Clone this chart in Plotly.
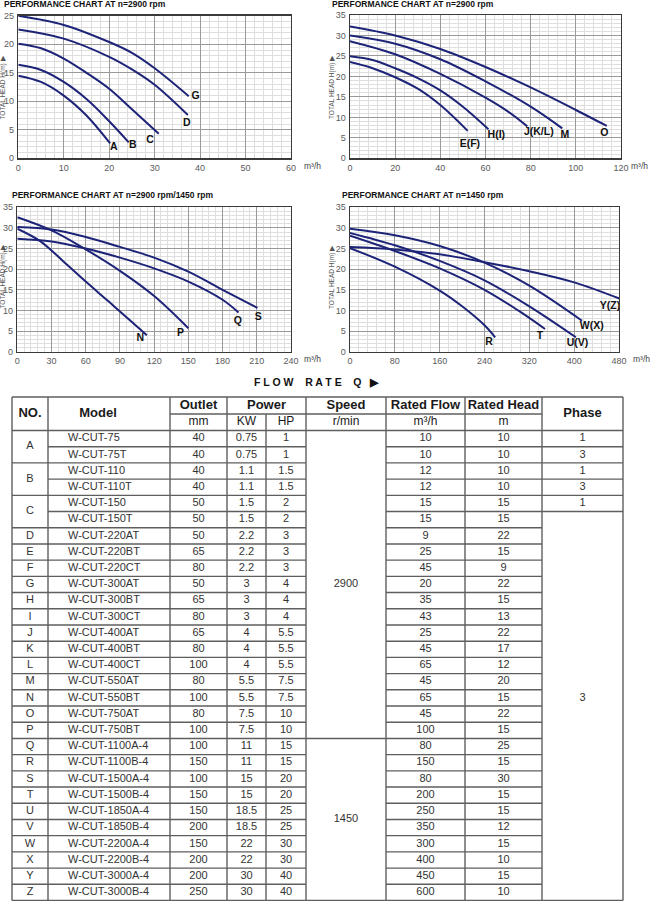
import plotly.graph_objects as go

W, H = 650, 901

# ---------------- chart data ----------------
# Chart 1: n=2900 rpm, small pumps
c1_names = ["A", "B", "C", "D", "G"]
c1_x = [
    [0, 5, 10, 15, 20.2],
    [0, 5, 10, 15, 20, 24.3],
    [0, 5, 10, 15, 20, 25, 30.9],
    [0, 10, 20, 25, 30, 37.3],
    [0, 10, 20, 25, 30, 37.5],
]
c1_y = [
    [14.5, 13.4, 11.0, 7.5, 2.6],
    [16.4, 15.5, 13.4, 10.4, 6.5, 2.8],
    [20.1, 19.3, 17.5, 15.0, 12.2, 8.6, 4.3],
    [22.6, 21.0, 17.8, 15.6, 12.9, 7.6],
    [25.0, 23.4, 20.4, 18.5, 15.8, 10.9],
]
c1_lx = [21.0, 25.2, 29.0, 37.1, 39.0]
c1_ly = [2.0, 2.2, 3.2, 6.2, 10.8]

# Chart 2: n=2900 rpm
c2_names = ["E(F)", "H(I)", "J(K/L)", "M", "O"]
c2_x = [
    [0, 10, 20, 30, 40, 52.1],
    [0, 10, 20, 30, 40, 50, 61.3],
    [0, 20, 40, 60, 70, 78.5],
    [0, 20, 40, 60, 80, 94],
    [0, 20, 40, 60, 80, 100, 113.7],
]
c2_y = [
    [23.5, 22.0, 19.8, 17.0, 13.0, 6.7],
    [24.9, 24.0, 22.0, 19.6, 16.6, 12.6, 7.1],
    [28.6, 25.4, 20.6, 14.8, 11.4, 7.8],
    [30.0, 28.0, 24.2, 18.8, 12.6, 7.3],
    [32.2, 30.0, 26.7, 22.3, 17.3, 11.8, 7.9],
]
c2_lx = [53.1, 64.8, 83.6, 95.2, 112.6]
c2_ly = [3.3, 5.5, 6.3, 5.7, 6.1]

# Chart 3: n=2900 rpm / 1450 rpm
c3_names = ["N", "P", "Q", "S"]
c3_x = [
    [0, 20, 40, 60, 80, 100, 113.6],
    [0, 30, 60, 90, 120, 150],
    [0, 30, 60, 90, 120, 150, 180, 194],
    [0, 30, 60, 90, 120, 150, 180, 210.6],
]
c3_y = [
    [29.8, 26.8, 22.0, 17.0, 12.2, 7.3, 4.0],
    [32.6, 29.4, 24.8, 19.6, 13.5, 5.7],
    [27.4, 26.7, 25.0, 22.8, 20.2, 17.0, 12.6, 9.5],
    [30.2, 29.6, 27.8, 25.4, 22.8, 19.4, 15.0, 10.6],
]
c3_lx = [107.8, 143.2, 193.4, 211.4]
c3_ly = [3.2, 4.4, 7.3, 8.3]

# Chart 4: n=1450 rpm
c4_names = ["R", "T", "U(V)", "W(X)", "Y(Z)"]
c4_x = [
    [0, 80, 160, 200, 240, 259],
    [0, 80, 160, 240, 300, 348],
    [0, 80, 160, 240, 320, 403],
    [0, 80, 160, 240, 320, 414],
    [0, 80, 160, 240, 320, 400, 484],
]
c4_y = [
    [25.1, 20.6, 14.8, 11.0, 6.4, 3.5],
    [28.1, 24.4, 20.2, 15.0, 10.0, 5.5],
    [28.8, 25.8, 22.0, 17.3, 11.0, 3.5],
    [29.8, 28.2, 25.6, 21.6, 16.0, 7.5],
    [25.4, 24.8, 23.6, 21.7, 19.5, 16.8, 12.7],
]
c4_lx = [248, 339, 406, 431.5, 464]
c4_ly = [2.3, 3.8, 1.9, 6.1, 10.9]

chart_titles = [
    "PERFORMANCE CHART AT n=2900 rpm",
    "PERFORMANCE CHART AT n=2900 rpm",
    "PERFORMANCE CHART AT n=2900 rpm/1450 rpm",
    "PERFORMANCE CHART AT n=1450 rpm",
]
x_ranges = [[0, 60], [0, 120], [0, 240], [0, 480]]
x_major = [10, 20, 30, 80]
x_minor = [2, 4, 6, 16]
y_ranges = [[0, 25], [0, 35], [0, 35], [0, 35]]
y_major = 5
y_minor = 1
y_axis_title = "TOTAL HEAD H(m) \u25B6"
x_unit = "m\u00b3/h"
flow_caption = "F L O W\u00a0\u00a0\u00a0\u00a0R A T E\u00a0\u00a0\u00a0\u00a0Q\u00a0\u00a0\u00a0\u25B6"

# ---------------- table data ----------------
col_heads_top = ["NO.", "Model", "Outlet", "Power", "Speed", "Rated Flow", "Rated Head", "Phase"]
col_heads_sub = ["mm", "KW", "HP", "r/min", "m\u00b3/h", "m"]
nos = ["A", "A", "B", "B", "C", "C", "D", "E", "F", "G", "H", "I", "J", "K", "L",
       "M", "N", "O", "P", "Q", "R", "S", "T", "U", "V", "W", "X", "Y", "Z"]
models = ["W-CUT-75", "W-CUT-75T", "W-CUT-110", "W-CUT-110T", "W-CUT-150", "W-CUT-150T",
          "W-CUT-220AT", "W-CUT-220BT", "W-CUT-220CT", "W-CUT-300AT", "W-CUT-300BT",
          "W-CUT-300CT", "W-CUT-400AT", "W-CUT-400BT", "W-CUT-400CT", "W-CUT-550AT",
          "W-CUT-550BT", "W-CUT-750AT", "W-CUT-750BT", "W-CUT-1100A-4", "W-CUT-1100B-4",
          "W-CUT-1500A-4", "W-CUT-1500B-4", "W-CUT-1850A-4", "W-CUT-1850B-4",
          "W-CUT-2200A-4", "W-CUT-2200B-4", "W-CUT-3000A-4", "W-CUT-3000B-4"]
outlets = [40, 40, 40, 40, 50, 50, 50, 65, 80, 50, 65, 80, 65, 80, 100, 80, 100, 80, 100,
           100, 150, 100, 150, 150, 200, 150, 200, 200, 250]
kws = ["0.75", "0.75", "1.1", "1.1", "1.5", "1.5", "2.2", "2.2", "2.2", "3", "3", "3",
       "4", "4", "4", "5.5", "5.5", "7.5", "7.5", "11", "11", "15", "15", "18.5", "18.5",
       "22", "22", "30", "30"]
hps = ["1", "1", "1.5", "1.5", "2", "2", "3", "3", "3", "4", "4", "4", "5.5", "5.5", "5.5",
       "7.5", "7.5", "10", "10", "15", "15", "20", "20", "25", "25", "30", "30", "40", "40"]
speeds = [2900, 2900, 2900, 2900, 2900, 2900, 2900, 2900, 2900, 2900, 2900, 2900, 2900,
          2900, 2900, 2900, 2900, 2900, 2900,
          1450, 1450, 1450, 1450, 1450, 1450, 1450, 1450, 1450, 1450]
flows = [10, 10, 12, 12, 15, 15, 9, 25, 45, 20, 35, 43, 25, 45, 65, 45, 65, 45, 100,
         80, 150, 80, 200, 250, 350, 300, 400, 450, 600]
heads = [10, 10, 10, 10, 15, 15, 22, 15, 9, 22, 15, 13, 22, 17, 12, 20, 15, 22, 15,
         25, 15, 30, 15, 15, 12, 15, 10, 15, 10]
phases = [1, 3, 1, 3, 1, 3, 3, 3, 3, 3, 3, 3, 3, 3, 3, 3, 3, 3, 3, 3, 3, 3, 3, 3, 3, 3, 3, 3, 3]

# ---------------- layout constants ----------------
CURVE_COLOR = "#1d2478"
FONT = "Liberation Sans, Arial, sans-serif"
# plot areas in pixels: (left, right, top, bottom)
areas = [(18.3, 291, 15.8, 158.3), (350, 621, 15.0, 158.3),
         (17.3, 291, 207.3, 351.7), (350, 619, 207.3, 351.7)]
title_px = [(2, 4), (330, 4), (10, 195), (340, 195)]
ylab_px = [(2.5, 88), (332, 87), (2.5, 277), (332, 277)]
unit_px = [(302, 166), (629, 166), (302, 359), (631, 359)]


def fx(px):
    return px / W


def fy(py):
    return 1 - py / H


fig = go.Figure()

charts = [
    (c1_names, c1_x, c1_y, c1_lx, c1_ly),
    (c2_names, c2_x, c2_y, c2_lx, c2_ly),
    (c3_names, c3_x, c3_y, c3_lx, c3_ly),
    (c4_names, c4_x, c4_y, c4_lx, c4_ly),
]

annotations = []
layout_axes = {}
for i, (names, xs, ys, lxs, lys) in enumerate(charts):
    n = i + 1
    xa = "x" if n == 1 else f"x{n}"
    ya = "y" if n == 1 else f"y{n}"
    for name, cx, cy in zip(names, xs, ys):
        fig.add_trace(go.Scatter(
            x=cx, y=cy, mode="lines", xaxis=xa, yaxis=ya, name=name,
            line=dict(color=CURVE_COLOR, width=2, shape="spline", smoothing=1.0),
            showlegend=False, hoverinfo="skip"))
    fig.add_trace(go.Scatter(
        x=lxs, y=lys, mode="text", text=names, xaxis=xa, yaxis=ya,
        textfont=dict(family=FONT, size=10.5, color="#111", weight="bold"),
        showlegend=False, hoverinfo="skip", cliponaxis=False))
    l, r, t, b = areas[i]
    axis_common = dict(
        showline=True, mirror=True, linecolor="#3a3a3a", linewidth=1.4,
        showgrid=True, gridcolor="#9a9a9a", gridwidth=1, zeroline=False,
        ticks="", tickfont=dict(family=FONT, size=9, color="#5a5a5a"),
        fixedrange=True, automargin=False)
    layout_axes["xaxis" if n == 1 else f"xaxis{n}"] = dict(
        axis_common, domain=[fx(l), fx(r)], range=x_ranges[i], dtick=x_major[i],
        tick0=0, anchor=ya,
        minor=dict(dtick=x_minor[i], showgrid=True, gridcolor="#dedede", gridwidth=1))
    layout_axes["yaxis" if n == 1 else f"yaxis{n}"] = dict(
        axis_common, domain=[fy(b), fy(t)], range=y_ranges[i], dtick=y_major,
        tick0=0, anchor=xa, ticklabelstandoff=1,
        minor=dict(dtick=y_minor, showgrid=True, gridcolor="#dedede", gridwidth=1))
    tx, ty = title_px[i]
    annotations.append(dict(
        x=fx(tx), y=fy(ty), xref="paper", yref="paper", xanchor="left", yanchor="middle",
        text=chart_titles[i], showarrow=False,
        font=dict(family=FONT, size=8.5, color="#111", weight="bold")))
    yx, yy = ylab_px[i]
    annotations.append(dict(
        x=fx(yx), y=fy(yy), xref="paper", yref="paper", xanchor="center", yanchor="middle",
        text=y_axis_title, textangle=-90, showarrow=False, borderpad=0,
        font=dict(family=FONT, size=6.5, color="#555")))
    ux, uy = unit_px[i]
    annotations.append(dict(
        x=fx(ux), y=fy(uy), xref="paper", yref="paper", xanchor="left", yanchor="middle",
        text=x_unit, showarrow=False, font=dict(family=FONT, size=8.5, color="#444")))

annotations.append(dict(
    x=fx(316), y=fy(381.5), xref="paper", yref="paper", xanchor="center", yanchor="middle",
    text=flow_caption, showarrow=False,
    font=dict(family=FONT, size=10.5, color="#111", weight="bold")))

# ---------------- table on its own pixel-scaled axis ----------------
col_edges = [12, 48, 170, 227, 266, 306, 386, 465, 542, 623]
T_TOP, T_MID, T_HB, T_BOT = 397, 414, 430.5, 900.5
nrows = len(models)
rh = (T_BOT - T_HB) / nrows
row_y = [T_HB + k * rh for k in range(nrows + 1)]
row_c = [T_HB + (k + 0.5) * rh for k in range(nrows)]

columns = [nos, models, outlets, kws, hps, speeds, flows, heads, phases]
merged_cols = {0, 5, 8}


def runs(vals):
    out = []
    s = 0
    for k in range(1, len(vals) + 1):
        if k == len(vals) or vals[k] != vals[s]:
            out.append((s, k))
            s = k
    return out


lx, ly = [], []


def seg(x0, y0, x1, y1):
    lx.extend([x0, x1, None])
    ly.extend([y0, y1, None])


# outer + header lines
seg(col_edges[0], T_TOP, col_edges[-1], T_TOP)
seg(col_edges[2], T_MID, col_edges[8], T_MID)
seg(col_edges[0], T_HB, col_edges[-1], T_HB)
seg(col_edges[0], T_BOT, col_edges[-1], T_BOT)
for j, xe in enumerate(col_edges):
    y_start = T_MID if j == 4 else T_TOP
    seg(xe, y_start, xe, T_BOT)

# body horizontal lines, respecting merged cells
for c in range(len(col_edges) - 1):
    vals = columns[c]
    if c in merged_cols:
        bounds = [s for s, e in runs(vals) if s > 0]
    else:
        bounds = list(range(1, nrows))
    for k in bounds:
        seg(col_edges[c], row_y[k], col_edges[c + 1], row_y[k])

fig.add_trace(go.Scatter(
    x=lx, y=ly, mode="lines", xaxis="x5", yaxis="y5",
    line=dict(color="#5e5e5e", width=1.4), showlegend=False, hoverinfo="skip"))

# body text
cx, cy, ct = [], [], []
for c in range(len(col_edges) - 1):
    if c == 1:
        continue
    vals = columns[c]
    xc = (col_edges[c] + col_edges[c + 1]) / 2
    if c in merged_cols:
        for s, e in runs(vals):
            cx.append(xc)
            # long merged runs carry their label a little above the centre
            mid = (row_y[s] + row_y[e]) / 2
            if e - s > 20:
                mid = row_c[(s + e) // 2 - 1]
            cy.append(mid)
            ct.append(str(vals[s]))
    else:
        for k, v in enumerate(vals):
            cx.append(xc)
            cy.append(row_c[k])
            ct.append(str(v))
fig.add_trace(go.Scatter(
    x=cx, y=cy, text=ct, mode="text", xaxis="x5", yaxis="y5",
    textposition="middle center", textfont=dict(family=FONT, size=11, color="#333"),
    showlegend=False, hoverinfo="skip", cliponaxis=False))
fig.add_trace(go.Scatter(
    x=[68] * nrows, y=row_c, text=models, mode="text", xaxis="x5", yaxis="y5",
    textposition="middle right", textfont=dict(family=FONT, size=11, color="#333"),
    showlegend=False, hoverinfo="skip", cliponaxis=False))

# header text
head_top_x = [(col_edges[0] + col_edges[1]) / 2, 98,
              (col_edges[2] + col_edges[3]) / 2, (col_edges[3] + col_edges[5]) / 2,
              (col_edges[5] + col_edges[6]) / 2, (col_edges[6] + col_edges[7]) / 2,
              (col_edges[7] + col_edges[8]) / 2, (col_edges[8] + col_edges[9]) / 2]
full_span = {"NO.", "Model", "Phase"}
head_top_y = [(T_TOP + T_HB) / 2 if h in full_span else (T_TOP + T_MID) / 2
              for h in col_heads_top]
fig.add_trace(go.Scatter(
    x=head_top_x, y=head_top_y, text=col_heads_top, mode="text", xaxis="x5", yaxis="y5",
    textposition="middle center",
    textfont=dict(family=FONT, size=13, color="#1a1a1a", weight="bold"),
    showlegend=False, hoverinfo="skip", cliponaxis=False))
sub_x = [(col_edges[j] + col_edges[j + 1]) / 2 for j in range(2, 8)]
fig.add_trace(go.Scatter(
    x=sub_x, y=[(T_MID + T_HB) / 2] * len(sub_x), text=col_heads_sub, mode="text",
    xaxis="x5", yaxis="y5", textposition="middle center",
    textfont=dict(family=FONT, size=12, color="#1a1a1a"),
    showlegend=False, hoverinfo="skip", cliponaxis=False))

layout_axes["xaxis5"] = dict(domain=[0, 1], range=[0, W], visible=False, fixedrange=True,
                             anchor="y5", automargin=False)
layout_axes["yaxis5"] = dict(domain=[0, fy(396)], range=[H, 396], visible=False,
                             fixedrange=True, anchor="x5", automargin=False)

fig.update_layout(
    width=W, height=H, margin=dict(l=0, r=0, t=0, b=0, autoexpand=False),
    paper_bgcolor="white", plot_bgcolor="white",
    annotations=annotations, showlegend=False, **layout_axes)

fig.write_html(
    "out.html",
    config={"displayModeBar": False, "staticPlot": True},
    post_script="document.body.style.margin='0';document.body.style.overflow='hidden';")
